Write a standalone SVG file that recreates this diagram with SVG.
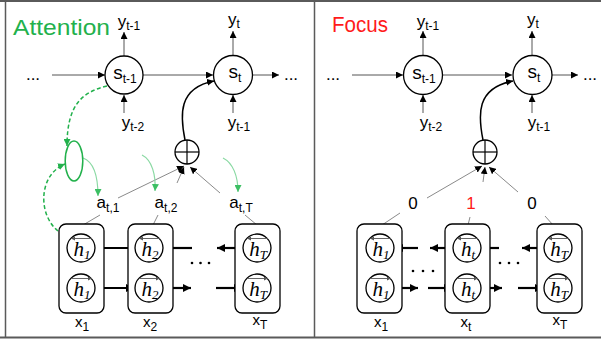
<svg xmlns="http://www.w3.org/2000/svg" width="601" height="343" viewBox="0 0 601 343">
  <defs>
    <marker id="ah" viewBox="0 0 10 10" refX="10" refY="5" markerWidth="7" markerHeight="7" markerUnits="userSpaceOnUse" orient="auto"><path d="M0,0 L10,5 L0,10 z" fill="#000"/></marker>
    <marker id="ahb" viewBox="0 0 10 10" refX="10" refY="5" markerWidth="8" markerHeight="8" markerUnits="userSpaceOnUse" orient="auto"><path d="M0,0 L10,5 L0,10 z" fill="#000"/></marker>
    <marker id="ahs" viewBox="0 0 10 10" refX="10" refY="5" markerWidth="4" markerHeight="4" markerUnits="userSpaceOnUse" orient="auto"><path d="M0,0 L10,5 L0,10 z" fill="#555"/></marker>
    <marker id="ahg" viewBox="0 0 10 10" refX="10" refY="5" markerWidth="7" markerHeight="7" markerUnits="userSpaceOnUse" orient="auto"><path d="M0,0 L10,5 L0,10 z" fill="#22b14c"/></marker>
    <marker id="ahlg" viewBox="0 0 10 10" refX="10" refY="5" markerWidth="7" markerHeight="7" markerUnits="userSpaceOnUse" orient="auto"><path d="M0,0 L10,5 L0,10 z" fill="#3cbf63"/></marker>
  </defs>
  <style>
    text { font-family: "Liberation Sans", Arial, sans-serif; fill: #000; }
    .title { font-size: 22px; }
    .lab { font-size: 17px; text-anchor: middle; }
    .s { font-size: 19px; text-anchor: middle; }
    .x { font-size: 15px; text-anchor: middle; }
    .sub { font-size: 12px; }
    .h { font-family: "Liberation Serif", "Times New Roman", serif; font-style: italic; font-size: 21px; text-anchor: middle; }
    .hsub { font-size: 13px; }
    .node { fill: #fff; stroke: #000; stroke-width: 1.3; }
    .box { fill: #fff; stroke: #000; stroke-width: 1.3; }
    .thin { fill: none; stroke: #555; stroke-width: 1; }
    .feed { fill: none; stroke: #8a8a8a; stroke-width: 1; }
    .bold { fill: none; stroke: #000; stroke-width: 2.2; }
    .over { fill: none; stroke: #555; stroke-width: 0.9; }
    .dash { fill: none; stroke: #22b14c; stroke-width: 1.5; stroke-dasharray: 4 2.5; }
    .lg { fill: none; stroke: #8ad9a3; stroke-width: 1.2; }
    .dot { fill: #000; }
    .frame { stroke: #5a5a5a; fill: none; }
  </style>

  <rect width="601" height="343" fill="#fff"/>

  <!-- frame -->
  <g id="frame">
    <line class="frame" x1="0" y1="1" x2="601" y2="1" stroke-width="2"/>
    <line class="frame" x1="0" y1="337.5" x2="601" y2="337.5" stroke-width="2"/>
    <line class="frame" x1="5.5" y1="1" x2="5.5" y2="338" stroke-width="1.5" stroke="#777"/>
    <line class="frame" x1="314.5" y1="1" x2="314.5" y2="338" stroke-width="1.5" stroke="#8a8a8a"/>
  </g>

  <text class="title" x="13" y="35" textLength="97" lengthAdjust="spacingAndGlyphs" style="fill:#22b14c">Attention</text>
  <text class="title" x="332" y="32" textLength="56" lengthAdjust="spacingAndGlyphs" style="fill:#ff1a1a">Focus</text>

  <!-- connectors -->
  <g id="connectors">
    <!-- left panel: decoder chain -->
    <line class="thin" x1="52" y1="75" x2="105" y2="75" marker-end="url(#ah)"/>
    <line class="thin" x1="143" y1="75" x2="213" y2="75" marker-end="url(#ah)"/>
    <line class="thin" x1="253" y1="75" x2="279" y2="75" marker-end="url(#ah)"/>
    <line class="thin" x1="124" y1="56" x2="124" y2="32" marker-end="url(#ah)"/>
    <line class="thin" x1="233" y1="55" x2="233" y2="31" marker-end="url(#ah)"/>
    <line class="thin" x1="124" y1="113" x2="124" y2="95" marker-end="url(#ah)"/>
    <line class="thin" x1="233" y1="113" x2="233" y2="95" marker-end="url(#ah)"/>
    <path d="M185 140 C180 115, 178 88, 214 81" fill="none" stroke="#000" stroke-width="1.5" marker-end="url(#ah)"/>
    <line class="feed" x1="118" y1="198" x2="184" y2="166" marker-end="url(#ah)"/>
    <line class="feed" x1="177" y1="183" x2="184" y2="167" marker-end="url(#ah)"/>
    <line class="feed" x1="220" y1="193" x2="190" y2="167" marker-end="url(#ah)"/>
    <line class="feed" x1="100" y1="215" x2="83" y2="225"/>
    <line class="feed" x1="158" y1="215" x2="153" y2="225"/>
    <line class="feed" x1="245" y1="215" x2="257" y2="225"/>
    <!-- left panel: attention scoring -->
    <path class="dash" d="M107 86 C82 92, 67 105, 67 146" marker-end="url(#ahg)"/>
    <path class="dash" d="M58 231 C38 215, 38 175, 65 164" marker-end="url(#ahg)"/>
    <path class="lg" d="M83 158 C94 162, 98 178, 98 196" marker-end="url(#ahlg)"/>
    <path class="lg" d="M142 155 C152 160, 156 175, 155 191" marker-end="url(#ahlg)"/>
    <path class="lg" d="M223 158 C233 163, 238 176, 238 192" marker-end="url(#ahlg)"/>
    <!-- left panel: encoder -->
    <line class="bold" x1="135" y1="248" x2="96" y2="248" marker-end="url(#ahb)"/>
    <line class="bold" x1="192" y1="248" x2="164" y2="248" marker-end="url(#ahb)"/>
    <line class="bold" x1="243" y1="248" x2="217" y2="248" marker-end="url(#ahb)"/>
    <line class="bold" x1="95" y1="288" x2="134" y2="288" marker-end="url(#ahb)"/>
    <line class="bold" x1="163" y1="288" x2="191" y2="288" marker-end="url(#ahb)"/>
    <line class="bold" x1="216" y1="288" x2="242" y2="288" marker-end="url(#ahb)"/>

    <!-- right panel: decoder chain -->
    <line class="thin" x1="352" y1="75" x2="403" y2="75" marker-end="url(#ah)"/>
    <line class="thin" x1="443" y1="75" x2="512" y2="75" marker-end="url(#ah)"/>
    <line class="thin" x1="552" y1="75" x2="578" y2="75" marker-end="url(#ah)"/>
    <line class="thin" x1="423" y1="55" x2="423" y2="31" marker-end="url(#ah)"/>
    <line class="thin" x1="532" y1="55" x2="532" y2="31" marker-end="url(#ah)"/>
    <line class="thin" x1="423" y1="113" x2="423" y2="95" marker-end="url(#ah)"/>
    <line class="thin" x1="532" y1="113" x2="532" y2="95" marker-end="url(#ah)"/>
    <path d="M483 140 C478 115, 476 88, 513 81" fill="none" stroke="#000" stroke-width="1.5" marker-end="url(#ah)"/>
    <line class="feed" x1="427" y1="198" x2="482" y2="166" marker-end="url(#ah)"/>
    <line class="feed" x1="483" y1="182" x2="485" y2="167" marker-end="url(#ah)"/>
    <line class="feed" x1="518" y1="192" x2="489" y2="167" marker-end="url(#ah)"/>
    <line class="feed" x1="400" y1="213" x2="382" y2="225"/>
    <line class="feed" x1="470" y1="217" x2="468" y2="225"/>
    <line class="feed" x1="545" y1="216" x2="553" y2="225"/>
    <!-- right panel: encoder -->
    <line class="bold" x1="418" y1="248" x2="395" y2="248" marker-end="url(#ahb)"/>
    <line class="bold" x1="453" y1="248" x2="430" y2="248" marker-end="url(#ahb)"/>
    <line class="bold" x1="499" y1="248" x2="482" y2="248" marker-end="url(#ahb)"/>
    <line class="bold" x1="544" y1="248" x2="522" y2="248" marker-end="url(#ahb)"/>
    <line class="bold" x1="394" y1="288" x2="418" y2="288" marker-end="url(#ahb)"/>
    <line class="bold" x1="428" y1="288" x2="452" y2="288" marker-end="url(#ahb)"/>
    <line class="bold" x1="481" y1="288" x2="502" y2="288" marker-end="url(#ahb)"/>
    <line class="bold" x1="518" y1="288" x2="543" y2="288" marker-end="url(#ahb)"/>
  </g>

  <!-- continuation marks -->
  <g id="ellipses">
    <text class="lab" x="33" y="80">...</text>
    <text class="lab" x="291" y="80">...</text>
    <text class="lab" x="333" y="80">...</text>
    <text class="lab" x="590" y="80">...</text>
    <circle class="dot" cx="192" cy="263" r="1.3"/><circle class="dot" cx="200.5" cy="263" r="1.3"/><circle class="dot" cx="209" cy="263" r="1.3"/>
    <circle class="dot" cx="413" cy="271" r="1.3"/><circle class="dot" cx="423" cy="271" r="1.3"/><circle class="dot" cx="433" cy="271" r="1.3"/>
    <circle class="dot" cx="500" cy="263" r="1.3"/><circle class="dot" cx="509" cy="263" r="1.3"/><circle class="dot" cx="518" cy="263" r="1.3"/>
  </g>

  <!-- left panel nodes -->
  <g id="L-s-prev"><circle class="node" cx="124" cy="75" r="19"/><text class="s" x="125" y="79">s<tspan class="sub" dy="4">t-1</tspan></text></g>
  <g id="L-s-cur"><circle class="node" cx="233" cy="75" r="19.5"/><text class="s" x="235" y="78">s<tspan class="sub" dy="4">t</tspan></text></g>
  <g id="L-y-out-prev"><text class="lab" x="129" y="27">y<tspan class="sub" dy="3">t-1</tspan></text></g>
  <g id="L-y-out-cur"><text class="lab" x="234" y="25">y<tspan class="sub" dy="3">t</tspan></text></g>
  <g id="L-y-in-prev"><text class="lab" x="133" y="128">y<tspan class="sub" dy="3">t-2</tspan></text></g>
  <g id="L-y-in-cur"><text class="lab" x="239" y="128">y<tspan class="sub" dy="3">t-1</tspan></text></g>
  <g id="L-sum"><circle class="node" cx="187" cy="152" r="12"/><line x1="175" y1="152" x2="199" y2="152" stroke="#000" stroke-width="1.2"/><line x1="187" y1="140" x2="187" y2="164" stroke="#000" stroke-width="1.2"/></g>
  <g id="L-score"><ellipse cx="74" cy="161" rx="8.8" ry="20" fill="#fff" stroke="#22b14c" stroke-width="1.5"/></g>
  <g id="L-a1"><text class="lab" x="108" y="208">a<tspan class="sub" dy="4">t,1</tspan></text></g>
  <g id="L-a2"><text class="lab" x="166" y="208">a<tspan class="sub" dy="4">t,2</tspan></text></g>
  <g id="L-aT"><text class="lab" x="241" y="208">a<tspan class="sub" dy="4">t,T</tspan></text></g>

  <g id="L-h1">
    <rect class="box" x="59" y="224" width="45" height="89" rx="7"/>
    <circle class="node" cx="81" cy="248" r="14"/><circle class="node" cx="81" cy="288" r="14"/>
    <line class="over" x1="92" y1="238.5" x2="71" y2="238.5" marker-end="url(#ahs)"/>
    <line class="over" x1="71" y1="278.5" x2="92" y2="278.5" marker-end="url(#ahs)"/>
    <text class="h" x="82" y="256">h<tspan class="hsub" dy="3">1</tspan></text>
    <text class="h" x="82" y="296">h<tspan class="hsub" dy="3">1</tspan></text>
    <text class="x" x="82" y="327">x<tspan class="sub" dy="4">1</tspan></text>
  </g>
  <g id="L-h2">
    <rect class="box" x="128" y="224" width="45" height="89" rx="7"/>
    <circle class="node" cx="149" cy="248" r="14"/><circle class="node" cx="149" cy="288" r="14"/>
    <line class="over" x1="160" y1="238.5" x2="139" y2="238.5" marker-end="url(#ahs)"/>
    <line class="over" x1="139" y1="278.5" x2="160" y2="278.5" marker-end="url(#ahs)"/>
    <text class="h" x="150" y="256">h<tspan class="hsub" dy="3">2</tspan></text>
    <text class="h" x="150" y="296">h<tspan class="hsub" dy="3">2</tspan></text>
    <text class="x" x="150" y="327">x<tspan class="sub" dy="4">2</tspan></text>
  </g>
  <g id="L-hT">
    <rect class="box" x="235" y="224" width="45" height="89" rx="7"/>
    <circle class="node" cx="257" cy="248" r="14"/><circle class="node" cx="257" cy="288" r="14"/>
    <line class="over" x1="268" y1="238.5" x2="247" y2="238.5" marker-end="url(#ahs)"/>
    <line class="over" x1="247" y1="278.5" x2="268" y2="278.5" marker-end="url(#ahs)"/>
    <text class="h" x="258" y="256">h<tspan class="hsub" dy="3">T</tspan></text>
    <text class="h" x="258" y="296">h<tspan class="hsub" dy="3">T</tspan></text>
    <text class="x" x="260" y="325">x<tspan class="sub" dy="4">T</tspan></text>
  </g>

  <!-- right panel nodes -->
  <g id="R-s-prev"><circle class="node" cx="423" cy="75" r="19.5"/><text class="s" x="424" y="79">s<tspan class="sub" dy="4">t-1</tspan></text></g>
  <g id="R-s-cur"><circle class="node" cx="532.5" cy="75" r="19.5"/><text class="s" x="534" y="78">s<tspan class="sub" dy="4">t</tspan></text></g>
  <g id="R-y-out-prev"><text class="lab" x="428" y="27">y<tspan class="sub" dy="3">t-1</tspan></text></g>
  <g id="R-y-out-cur"><text class="lab" x="533" y="25">y<tspan class="sub" dy="3">t</tspan></text></g>
  <g id="R-y-in-prev"><text class="lab" x="431" y="128">y<tspan class="sub" dy="3">t-2</tspan></text></g>
  <g id="R-y-in-cur"><text class="lab" x="539" y="128">y<tspan class="sub" dy="3">t-1</tspan></text></g>
  <g id="R-sum"><circle class="node" cx="485" cy="152" r="12"/><line x1="473" y1="152" x2="497" y2="152" stroke="#000" stroke-width="1.2"/><line x1="485" y1="140" x2="485" y2="164" stroke="#000" stroke-width="1.2"/></g>
  <g id="R-w1"><text class="lab" x="413" y="209">0</text></g>
  <g id="R-wt"><text class="lab" x="471" y="209" style="fill:#ff1a1a">1</text></g>
  <g id="R-wT"><text class="lab" x="532" y="209">0</text></g>

  <g id="R-h1">
    <rect class="box" x="357" y="224" width="45" height="89" rx="7"/>
    <circle class="node" cx="380" cy="248" r="14"/><circle class="node" cx="380" cy="288" r="14"/>
    <line class="over" x1="391" y1="238.5" x2="370" y2="238.5" marker-end="url(#ahs)"/>
    <line class="over" x1="370" y1="278.5" x2="391" y2="278.5" marker-end="url(#ahs)"/>
    <text class="h" x="381" y="256">h<tspan class="hsub" dy="3">1</tspan></text>
    <text class="h" x="381" y="296">h<tspan class="hsub" dy="3">1</tspan></text>
    <text class="x" x="381" y="327">x<tspan class="sub" dy="4">1</tspan></text>
  </g>
  <g id="R-ht">
    <rect class="box" x="445" y="224" width="45" height="89" rx="7"/>
    <circle class="node" cx="467" cy="248" r="14"/><circle class="node" cx="467" cy="288" r="14"/>
    <line class="over" x1="478" y1="238.5" x2="457" y2="238.5" marker-end="url(#ahs)"/>
    <line class="over" x1="457" y1="278.5" x2="478" y2="278.5" marker-end="url(#ahs)"/>
    <text class="h" x="468" y="256">h<tspan class="hsub" dy="3">t</tspan></text>
    <text class="h" x="468" y="296">h<tspan class="hsub" dy="3">t</tspan></text>
    <text class="x" x="466" y="327">x<tspan class="sub" dy="4">t</tspan></text>
  </g>
  <g id="R-hT">
    <rect class="box" x="537" y="224" width="45" height="89" rx="7"/>
    <circle class="node" cx="558" cy="248" r="14"/><circle class="node" cx="558" cy="288" r="14"/>
    <line class="over" x1="569" y1="238.5" x2="548" y2="238.5" marker-end="url(#ahs)"/>
    <line class="over" x1="548" y1="278.5" x2="569" y2="278.5" marker-end="url(#ahs)"/>
    <text class="h" x="559" y="256">h<tspan class="hsub" dy="3">T</tspan></text>
    <text class="h" x="559" y="296">h<tspan class="hsub" dy="3">T</tspan></text>
    <text class="x" x="560" y="325">x<tspan class="sub" dy="4">T</tspan></text>
  </g>
</svg>
